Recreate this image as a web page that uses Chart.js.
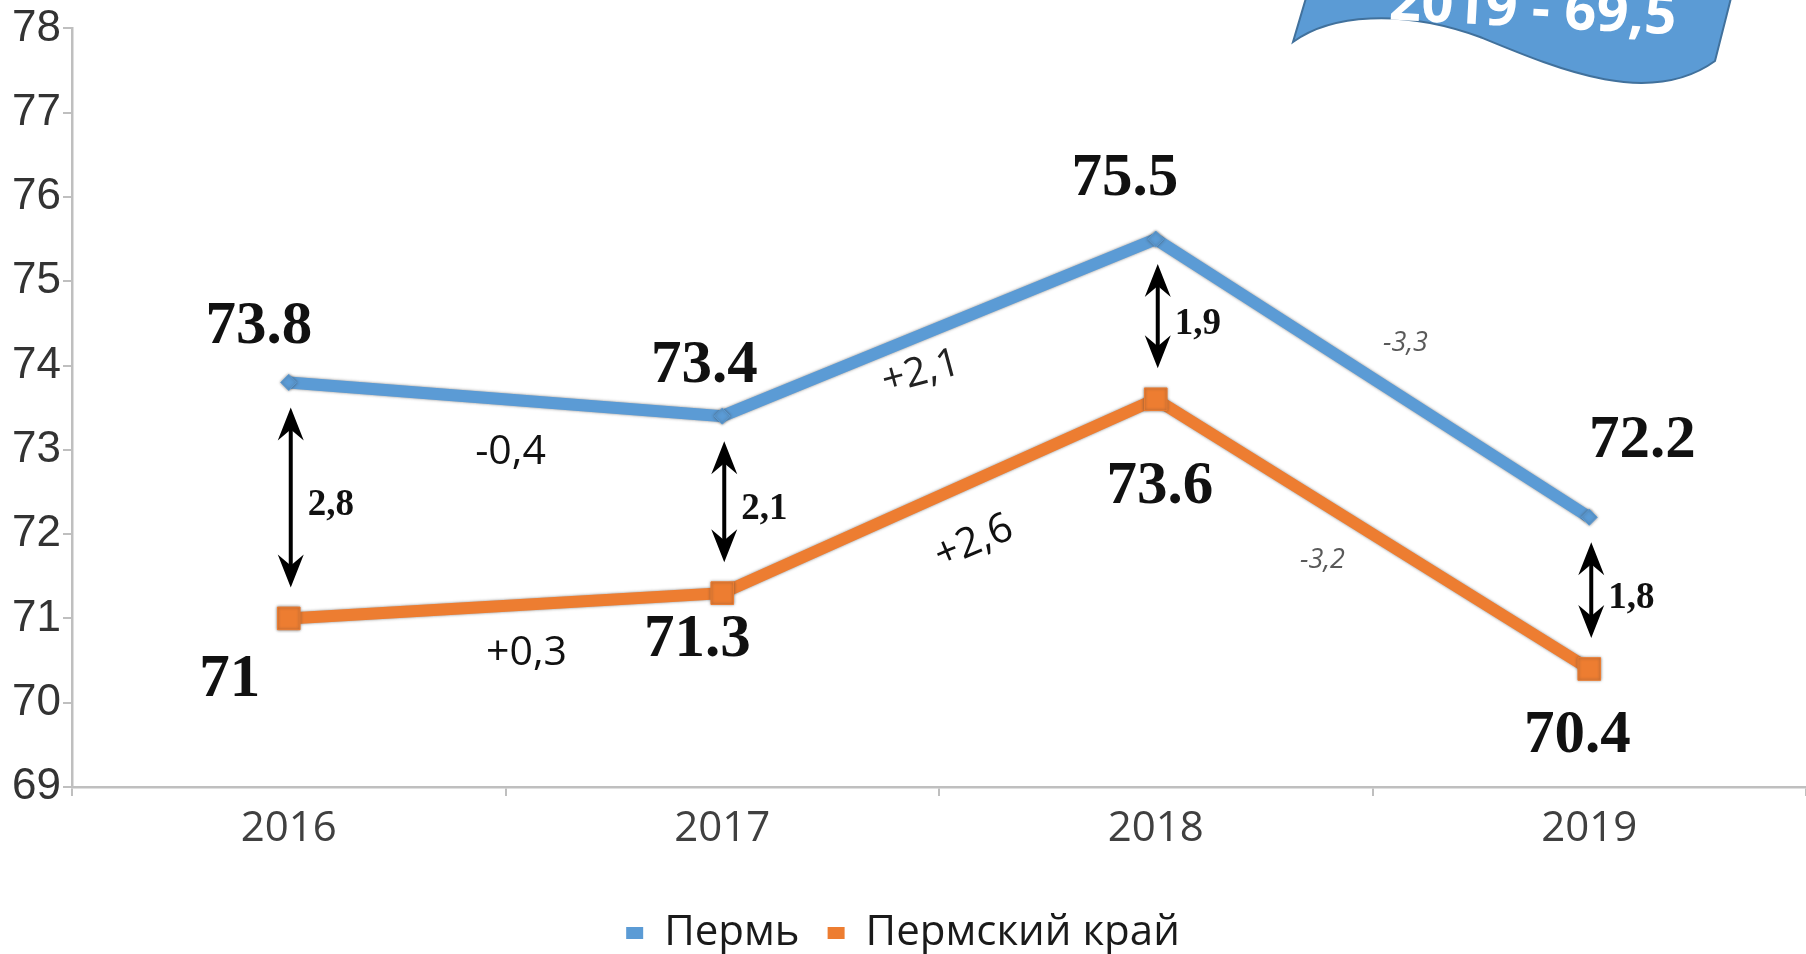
<!DOCTYPE html>
<html>
<head>
<meta charset="utf-8">
<script src="https://cdn.jsdelivr.net/npm/chart.js@4"></script>
<style>
  html, body { margin: 0; padding: 0; background: #fff; }
  #wrap { width: 1806px; height: 954px; }
</style>
</head>
<body>
<div id="wrap"><canvas id="lifeChart"></canvas></div>
<script>
const years = ['2016', '2017', '2018', '2019'];
const perm = [73.8, 73.4, 75.5, 72.2];
const permKrai = [71, 71.3, 73.6, 70.4];
const yMin = 69;
const yMax = 78;
// year-to-year change captions, as printed on the slide
const permChanges = ['-0,4', '+2,1', '-3,3'];
const kraiChanges = ['+0,3', '+2,6', '-3,2'];
const bannerText = '2019 - 69,5';

const BLUE = '#5B9BD5';
const ORANGE = '#ED7D31';
const AXIS = '#BFBFBF';

// label placement relative to the point (dx, dy)
const permLabelOffsets = [[-30, -55], [-18, -50], [-31, -60], [53, -76]];
const kraiLabelOffsets = [[-59, 62], [-25, 47], [4, 88], [-12, 67]];
// change captions relative to the segment midpoint: dx, dy, angle, style
const permChangeStyle = [
  { dx: 5, dy: 53, rot: 0, font: '41px "Open Sans"', color: '#111' },
  { dx: -18, dy: 45, rot: -15, font: '40px "Open Sans"', color: '#222' },
  { dx: 33, dy: -35, rot: 0, font: 'italic 27px "Open Sans"', color: '#595959' }
];
const kraiChangeStyle = [
  { dx: 21, dy: 48, rot: 0, font: '41px "Open Sans"', color: '#111' },
  { dx: 35, dy: 46, rot: -23, font: '41px "Open Sans"', color: '#111' },
  { dx: -50, dy: 26, rot: 0, font: 'italic 27px "Open Sans"', color: '#595959' }
];

function drawText(ctx, text, cx, cy, font, color, rot) {
  ctx.save();
  ctx.translate(cx, cy);
  if (rot) ctx.rotate(rot * Math.PI / 180);
  ctx.font = font;
  ctx.fillStyle = color;
  ctx.textAlign = 'center';
  ctx.textBaseline = 'middle';
  ctx.fillText(text, 0, 0);
  ctx.restore();
}

function arrowHead(ctx, x, tip, dir) {
  ctx.beginPath();
  ctx.moveTo(x, tip);
  ctx.lineTo(x - 13, tip + dir * 33);
  ctx.lineTo(x, tip + dir * 22);
  ctx.lineTo(x + 13, tip + dir * 33);
  ctx.closePath();
  ctx.fill();
}

function doubleArrow(ctx, x, top, bottom) {
  ctx.save();
  ctx.strokeStyle = '#000';
  ctx.fillStyle = '#000';
  ctx.lineWidth = 4;
  ctx.beginPath();
  ctx.moveTo(x, top + 10);
  ctx.lineTo(x, bottom - 10);
  ctx.stroke();
  arrowHead(ctx, x, top, 1);
  arrowHead(ctx, x, bottom, -1);
  ctx.restore();
}

// soft dark edge round the thick lines
const lineEdge = {
  id: 'lineEdge',
  beforeDatasetDraw(chart) {
    const ctx = chart.ctx;
    ctx.save();
    ctx.shadowColor = 'rgba(60,60,60,0.6)';
    ctx.shadowBlur = 3;
  },
  afterDatasetDraw(chart) {
    chart.ctx.restore();
  }
};

const annotations = {
  id: 'annotations',
  afterDatasetsDraw(chart) {
    const { ctx, scales: { x, y } } = chart;

    // arrows and gaps between the two series
    years.forEach((yr, i) => {
      const px = x.getPixelForValue(i) + 2;
      const top = y.getPixelForValue(perm[i]) + 25;
      const bottom = y.getPixelForValue(permKrai[i]) - 31;
      doubleArrow(ctx, px, top, bottom);
      const gap = (perm[i] - permKrai[i]).toFixed(1).replace('.', ',');
      drawText(ctx, gap, px + 40, (top + bottom) / 2 + 8, 'bold 37px "Liberation Serif"', '#111');
    });

    // change captions
    for (let i = 0; i < years.length - 1; i++) {
      const mx = (x.getPixelForValue(i) + x.getPixelForValue(i + 1)) / 2;
      const s1 = permChangeStyle[i];
      const my1 = (y.getPixelForValue(perm[i]) + y.getPixelForValue(perm[i + 1])) / 2;
      drawText(ctx, permChanges[i], mx + s1.dx, my1 + s1.dy, s1.font, s1.color, s1.rot);
      const s2 = kraiChangeStyle[i];
      const my2 = (y.getPixelForValue(permKrai[i]) + y.getPixelForValue(permKrai[i + 1])) / 2;
      drawText(ctx, kraiChanges[i], mx + s2.dx, my2 + s2.dy, s2.font, s2.color, s2.rot);
    }

    // point values
    const valueFont = 'bold 61px "Liberation Serif"';
    perm.forEach((v, i) => {
      const [dx, dy] = permLabelOffsets[i];
      drawText(ctx, String(v), x.getPixelForValue(i) + dx, y.getPixelForValue(v) + dy, valueFont, '#111');
    });
    permKrai.forEach((v, i) => {
      const [dx, dy] = kraiLabelOffsets[i];
      drawText(ctx, String(v), x.getPixelForValue(i) + dx, y.getPixelForValue(v) + dy, valueFont, '#111');
    });
  }
};

// ribbon with the 2019 figure in the top right corner
const banner = {
  id: 'banner',
  afterDraw(chart) {
    const ctx = chart.ctx;
    ctx.save();
    ctx.beginPath();
    ctx.moveTo(1306, -2);
    ctx.lineTo(1293, 42);
    ctx.bezierCurveTo(1330, 15, 1400, 8, 1480, 37);
    ctx.bezierCurveTo(1560, 70, 1650, 108, 1715, 61);
    ctx.lineTo(1731, -2);
    ctx.closePath();
    ctx.fillStyle = BLUE;
    ctx.fill();
    ctx.strokeStyle = '#41719C';
    ctx.lineWidth = 2;
    ctx.stroke();
    ctx.translate(1532, 27);
    ctx.rotate(3 * Math.PI / 180);
    ctx.font = 'bold 56px "Open Sans"';
    ctx.fillStyle = '#fff';
    ctx.textAlign = 'center';
    ctx.textBaseline = 'alphabetic';
    ctx.fillText(bannerText, 0, 0);
    ctx.restore();
  }
};

new Chart(document.getElementById('lifeChart'), {
  type: 'line',
  data: {
    labels: years,
    datasets: [
      {
        label: 'Пермь',
        data: perm,
        borderColor: BLUE,
        backgroundColor: BLUE,
        borderWidth: 12,
        pointStyle: 'rectRot',
        pointRadius: 8,
        pointBorderWidth: 1,
        tension: 0
      },
      {
        label: 'Пермский край',
        data: permKrai,
        borderColor: ORANGE,
        backgroundColor: ORANGE,
        borderWidth: 12,
        pointStyle: 'rect',
        pointRadius: 16,
        pointBorderWidth: 1,
        tension: 0
      }
    ]
  },
  options: {
    responsive: true,
    maintainAspectRatio: false,
    animation: false,
    layout: { autoPadding: false, padding: { top: 28, right: 0, bottom: -10, left: 0 } },
    plugins: {
      tooltip: { enabled: false },
      legend: {
        position: 'bottom',
        labels: {
          boxWidth: 17,
          boxHeight: 12,
          padding: 28,
          color: '#1a1a1a',
          font: { family: '"Open Sans"', size: 42 },
          generateLabels(chart) {
            const items = Chart.defaults.plugins.legend.labels.generateLabels(chart);
            items.forEach(it => { it.lineWidth = 0; });
            return items;
          }
        }
      }
    },
    scales: {
      x: {
        offset: true,
        grid: { drawOnChartArea: false, offset: true, tickLength: 9, color: AXIS, lineWidth: 2 },
        border: { color: AXIS, width: 2.5 },
        ticks: { color: '#404040', padding: 8, font: { family: '"Open Sans"', size: 42 } },
        afterFit(scale) { scale.height = 97; }
      },
      y: {
        min: yMin,
        max: yMax,
        grid: { drawOnChartArea: false, tickLength: 9, color: AXIS, lineWidth: 2 },
        border: { color: AXIS, width: 2.5 },
        ticks: { stepSize: 1, color: '#333', padding: 2, font: { family: '"Liberation Sans"', size: 44 } },
        afterFit(scale) { scale.width = 72; }
      }
    }
  },
  plugins: [lineEdge, annotations, banner]
});
</script>
</body>
</html>
